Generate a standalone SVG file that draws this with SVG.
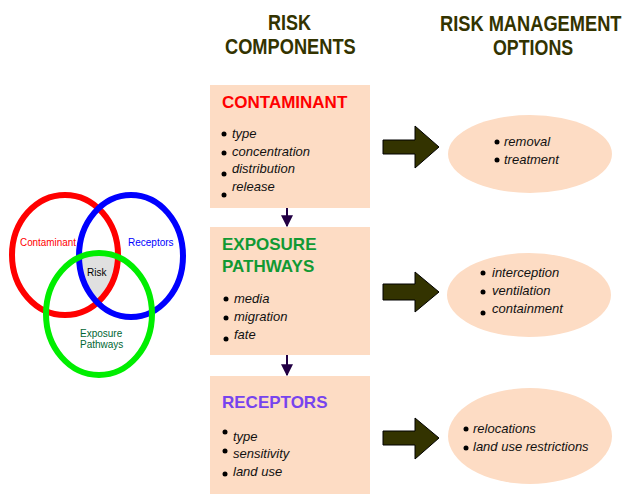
<svg xmlns="http://www.w3.org/2000/svg" width="628" height="494" viewBox="0 0 628 494">
<style>
.hd{font-family:"Liberation Sans",Arial,sans-serif;font-weight:bold;font-size:22px;fill:#333300}
.box{fill:#fddcc4}
.ttl{font-family:"Liberation Sans",Arial,sans-serif;font-weight:bold;font-size:17px}
.it{font-family:"Liberation Sans",Arial,sans-serif;font-style:italic;font-size:13px;fill:#111}
.dot{fill:#000}
.big{fill:#333300;stroke:#000;stroke-width:1}
.vl{font-family:"Liberation Sans",Arial,sans-serif;font-size:10px}
</style>
<defs>
<marker id="ah" viewBox="0 0 10 10" refX="9" refY="5" markerWidth="6" markerHeight="6" orient="auto"><path d="M0,0 L10,5 L0,10 z" fill="#220044"/></marker>
<clipPath id="cr"><ellipse cx="65" cy="255" rx="53" ry="60"/></clipPath>
<clipPath id="cb"><ellipse cx="131" cy="256" rx="52" ry="61"/></clipPath>
</defs>
<g id="headers">
<text class="hd" transform="translate(268,30) scale(0.82,1)">RISK</text>
<text class="hd" transform="translate(225,54) scale(0.83,1)">COMPONENTS</text>
<text class="hd" transform="translate(440,31) scale(0.83,1)">RISK MANAGEMENT</text>
<text class="hd" transform="translate(493,55) scale(0.81,1)">OPTIONS</text>
</g>
<g id="venn">
<g clip-path="url(#cr)"><g clip-path="url(#cb)"><ellipse cx="99" cy="314" rx="53" ry="61" fill="#e0e0e0"/></g></g>
<ellipse cx="65" cy="255" rx="53" ry="60" fill="none" stroke="#ff0000" stroke-width="6"/>
<ellipse cx="131" cy="256" rx="52" ry="61" fill="none" stroke="#0000ff" stroke-width="6"/>
<ellipse cx="99" cy="314" rx="53" ry="61" fill="none" stroke="#00ee00" stroke-width="6"/>
<text class="vl" x="20" y="246" fill="#ff0000" textLength="56" lengthAdjust="spacingAndGlyphs">Contaminant</text>
<text class="vl" x="128" y="246" fill="#0000ff">Receptors</text>
<text class="vl" x="87" y="276" fill="#000">Risk</text>
<text class="vl" x="80" y="337" fill="#006633">Exposure</text>
<text class="vl" x="80" y="348" fill="#006633">Pathways</text>
</g>
<g id="contaminant">
<rect class="box" x="210" y="85" width="160" height="123"/>
<text class="ttl" x="222" y="108" fill="#ff0000">CONTAMINANT</text>
<circle class="dot" cx="224" cy="134" r="2.5"/><text class="it" x="232" y="138">type</text>
<circle class="dot" cx="224" cy="153" r="2.5"/><text class="it" x="232" y="156">concentration</text>
<circle class="dot" cx="224" cy="174" r="2.5"/><text class="it" x="232" y="173">distribution</text>
<circle class="dot" cx="224" cy="195" r="2.5"/><text class="it" x="232" y="191">release</text>
</g>
<g id="exposure">
<rect class="box" x="210" y="227" width="160" height="128"/>
<text class="ttl" x="222" y="250" fill="#119933">EXPOSURE</text>
<text class="ttl" x="222" y="272" fill="#119933">PATHWAYS</text>
<circle class="dot" cx="226" cy="299" r="2.5"/><text class="it" x="234" y="303">media</text>
<circle class="dot" cx="226" cy="318" r="2.5"/><text class="it" x="234" y="321">migration</text>
<circle class="dot" cx="226" cy="339" r="2.5"/><text class="it" x="234" y="339">fate</text>
</g>
<g id="receptors">
<rect class="box" x="210" y="376" width="160" height="118"/>
<text class="ttl" x="222" y="408" fill="#7744ee">RECEPTORS</text>
<circle class="dot" cx="225" cy="432" r="2.5"/><text class="it" x="233" y="441">type</text>
<circle class="dot" cx="225" cy="451" r="2.5"/><text class="it" x="233" y="458">sensitivity</text>
<circle class="dot" cx="225" cy="474" r="2.5"/><text class="it" x="233" y="476">land use</text>
</g>
<g id="opt1">
<ellipse class="box" cx="530" cy="154" rx="82" ry="39"/>
<circle class="dot" cx="497" cy="142" r="2.5"/><text class="it" x="504" y="146">removal</text>
<circle class="dot" cx="497" cy="160" r="2.5"/><text class="it" x="504" y="164">treatment</text>
</g>
<g id="opt2">
<ellipse class="box" cx="529" cy="295" rx="82" ry="42"/>
<circle class="dot" cx="483" cy="273" r="2.5"/><text class="it" x="492" y="277">interception</text>
<circle class="dot" cx="483" cy="292" r="2.5"/><text class="it" x="492" y="295">ventilation</text>
<circle class="dot" cx="483" cy="313" r="2.5"/><text class="it" x="492" y="313">containment</text>
</g>
<g id="opt3">
<ellipse class="box" cx="530" cy="436" rx="82" ry="48"/>
<circle class="dot" cx="466" cy="429" r="2.5"/><text class="it" x="473" y="433">relocations</text>
<circle class="dot" cx="466" cy="448" r="2.5"/><text class="it" x="473" y="451">land use restrictions</text>
</g>
<g id="connectors">
<line x1="287" y1="208" x2="287" y2="226" stroke="#220044" stroke-width="2" marker-end="url(#ah)"/>
<line x1="287" y1="355" x2="287" y2="375" stroke="#220044" stroke-width="2" marker-end="url(#ah)"/>
<path class="big" d="M383,140 H415 V126 L439,147 L415,168 V154 H383 Z"/>
<path class="big" d="M383,284 H415 V272 L439,292 L415,312 V300 H383 Z"/>
<path class="big" d="M383,431 H415 V418 L439,438 L415,459 V445 H383 Z"/>
</g>
</svg>
